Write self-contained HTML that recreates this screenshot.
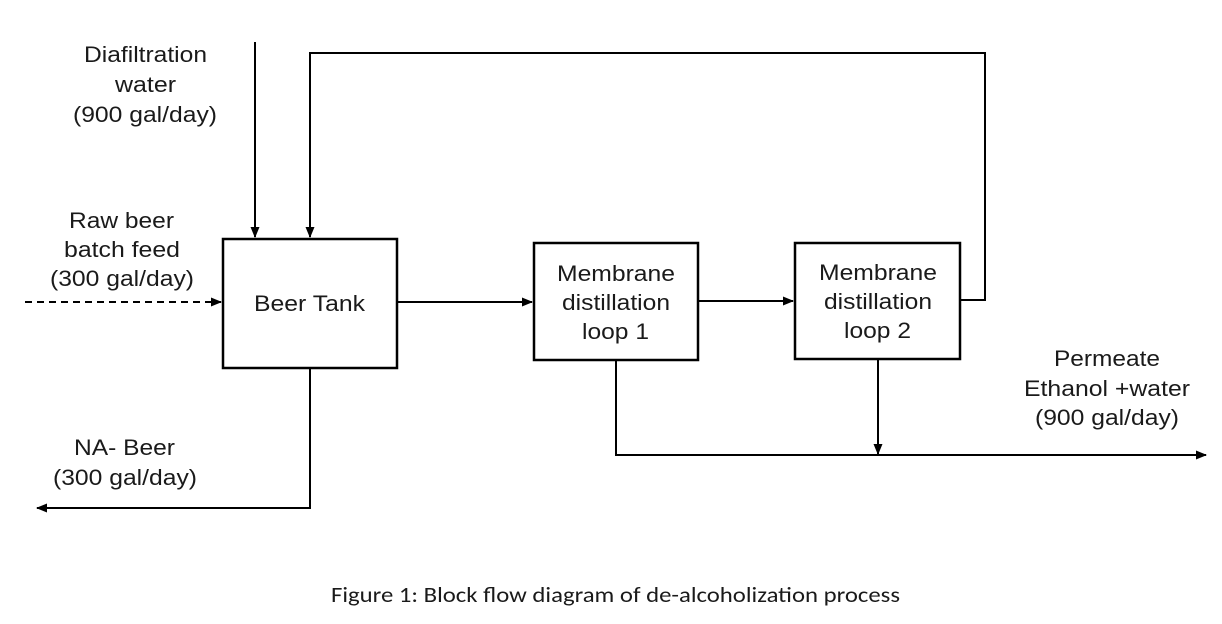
<!DOCTYPE html>
<html><head><style>
html,body{margin:0;padding:0;background:#fff;}
body{width:1222px;height:619px;overflow:hidden;}
</style></head><body>
<svg width="1222" height="619" viewBox="0 0 1222 619" xmlns="http://www.w3.org/2000/svg">
<defs>
<marker id="a" markerWidth="12" markerHeight="12" refX="10" refY="6" orient="auto" markerUnits="userSpaceOnUse">
<path d="M0,1.5 L11,6 L0,10.5 Z" fill="#000"/>
</marker>
</defs>
<g fill="none" stroke="#000" stroke-width="2.5">
<rect x="223" y="239" width="174" height="129"/>
<rect x="534" y="243" width="164" height="117"/>
<rect x="795" y="243" width="165" height="116"/>
</g>
<g fill="none" stroke="#000" stroke-width="2">
<line x1="255" y1="42" x2="255" y2="237" marker-end="url(#a)"/>
<polyline points="960,300 985,300 985,53 310,53 310,237" marker-end="url(#a)"/>
<line x1="25" y1="302" x2="221" y2="302" stroke-dasharray="7,5" marker-end="url(#a)"/>
<line x1="397" y1="302" x2="532" y2="302" marker-end="url(#a)"/>
<line x1="698" y1="301" x2="793" y2="301" marker-end="url(#a)"/>
<polyline points="310,368 310,508 37,508" marker-end="url(#a)"/>
<polyline points="616,360 616,455 1206,455" marker-end="url(#a)"/>
<line x1="878" y1="359" x2="878" y2="454" marker-end="url(#a)"/>
</g>
<g font-family="Liberation Sans, Arial, sans-serif" font-size="22" fill="#1a1a1a" lengthAdjust="spacingAndGlyphs">
<text x="84" y="62" textLength="123" lengthAdjust="spacingAndGlyphs">Diafiltration</text>
<text x="115" y="92" textLength="61" lengthAdjust="spacingAndGlyphs">water</text>
<text x="73" y="122" textLength="144" lengthAdjust="spacingAndGlyphs">(900 gal/day)</text>
<text x="69" y="228" textLength="105" lengthAdjust="spacingAndGlyphs">Raw beer</text>
<text x="64" y="257" textLength="116" lengthAdjust="spacingAndGlyphs">batch feed</text>
<text x="50" y="286" textLength="144" lengthAdjust="spacingAndGlyphs">(300 gal/day)</text>
<text x="254" y="311" textLength="111" lengthAdjust="spacingAndGlyphs">Beer Tank</text>
<text x="557" y="281" textLength="118" lengthAdjust="spacingAndGlyphs">Membrane</text>
<text x="562" y="310" textLength="108" lengthAdjust="spacingAndGlyphs">distillation</text>
<text x="582" y="339" textLength="67" lengthAdjust="spacingAndGlyphs">loop 1</text>
<text x="819" y="280" textLength="118" lengthAdjust="spacingAndGlyphs">Membrane</text>
<text x="824" y="309" textLength="108" lengthAdjust="spacingAndGlyphs">distillation</text>
<text x="844" y="338" textLength="67" lengthAdjust="spacingAndGlyphs">loop 2</text>
<text x="1054" y="366" textLength="106" lengthAdjust="spacingAndGlyphs">Permeate</text>
<text x="1024" y="396" textLength="166" lengthAdjust="spacingAndGlyphs">Ethanol +water</text>
<text x="1035" y="425" textLength="144" lengthAdjust="spacingAndGlyphs">(900 gal/day)</text>
<text x="74" y="455" textLength="101" lengthAdjust="spacingAndGlyphs">NA- Beer</text>
<text x="53" y="485" textLength="144" lengthAdjust="spacingAndGlyphs">(300 gal/day)</text>
<text x="331" y="602" font-family="Carlito, Liberation Sans, sans-serif" font-size="22" textLength="569" lengthAdjust="spacingAndGlyphs">Figure 1: Block flow diagram of de-alcoholization process</text>
</g>
</svg>
</body></html>
